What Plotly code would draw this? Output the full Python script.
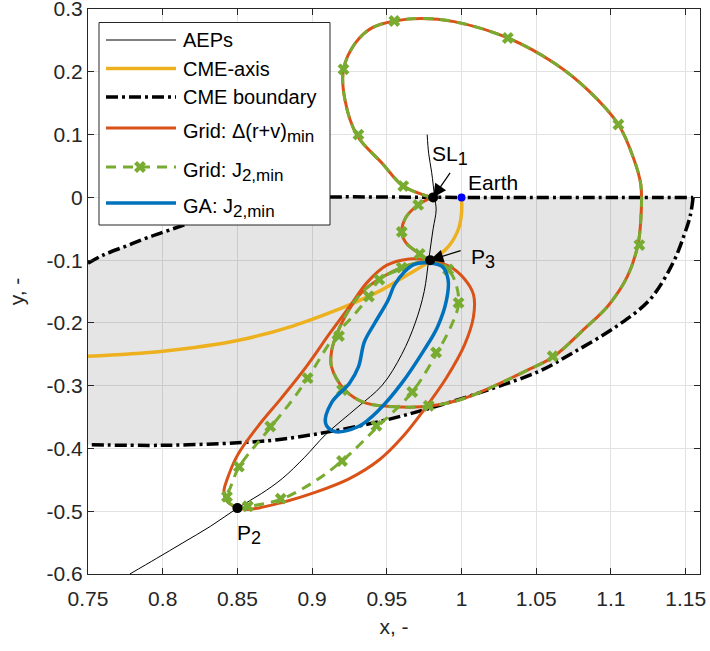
import plotly.graph_objects as go

# ---------------- data ----------------
x_ticks = [0.75, 0.8, 0.85, 0.9, 0.95, 1.0, 1.05, 1.1, 1.15]
x_ticklabels = ["0.75", "0.8", "0.85", "0.9", "0.95", "1", "1.05", "1.1", "1.15"]
y_ticks = [0.3, 0.2, 0.1, 0.0, -0.1, -0.2, -0.3, -0.4, -0.5, -0.6]
y_ticklabels = ["0.3", "0.2", "0.1", "0", "-0.1", "-0.2", "-0.3", "-0.4", "-0.5", "-0.6"]

# AEPs curve
aep_x = [0.778, 0.796, 0.813, 0.832, 0.85, 0.866, 0.88, 0.895, 0.909, 0.93, 0.947, 0.96, 0.969, 0.975, 0.978,
         0.981, 0.983, 0.982, 0.980, 0.978, 0.977]
aep_y = [-0.6, -0.575, -0.551, -0.524, -0.495, -0.472, -0.448, -0.414, -0.378, -0.335, -0.299, -0.25, -0.2, -0.15, -0.1,
         -0.05, -0.02, 0.0, 0.04, 0.07, 0.1]

# CME axis
cme_axis_x = [0.75, 0.8, 0.85, 0.887, 0.918, 0.933, 0.947, 0.962, 0.98, 0.991, 0.998, 1.0, 1.0]
cme_axis_y = [-0.253, -0.245, -0.228, -0.205, -0.178, -0.163, -0.147, -0.126, -0.1, -0.079, -0.05, -0.025, 0.0]

# CME boundary: upper-left part + straight part on y=0, and lower part
cme_upper_x = [0.75, 0.76, 0.775, 0.79, 0.807, 0.825, 0.845, 0.865, 0.885, 0.9, 1.0, 1.155]
cme_upper_y = [-0.105, -0.092, -0.078, -0.064, -0.05, -0.035, -0.021, -0.010, -0.003, 0.0, 0.0, 0.0]
cme_lower_x = [1.155, 1.153, 1.149, 1.1416, 1.126, 1.104, 1.075, 1.052, 1.02, 0.98, 0.947, 0.91, 0.877, 0.85, 0.8, 0.75]
cme_lower_y = [0.0, -0.03, -0.06, -0.104, -0.163, -0.205, -0.247, -0.277, -0.305, -0.335, -0.356, -0.374, -0.386, -0.391, -0.395, -0.394]

# Shared path of both grid solutions (P3 -> SL1, SL1 -> big loop -> P3)
s_leg_x = [0.978, 0.972, 0.963, 0.96, 0.963, 0.971, 0.980]
s_leg_y = [-0.1, -0.09, -0.073, -0.055, -0.031, -0.012, 0.0]
loop_x = [0.980, 0.961, 0.947, 0.93, 0.922, 0.921, 0.929, 0.94, 0.955, 0.973, 0.995, 1.031, 1.062, 1.085,
          1.105, 1.115, 1.12, 1.12, 1.118, 1.111, 1.098, 1.082, 1.062, 1.047, 1.002, 0.98, 0.96, 0.935,
          0.922, 0.913, 0.913, 0.916, 0.922, 0.933, 0.947, 0.962, 0.978]
loop_y = [0.0, 0.018, 0.054, 0.099, 0.155, 0.204, 0.246, 0.27, 0.281, 0.285, 0.28, 0.254, 0.214, 0.17,
          0.116, 0.063, 0.02, -0.035, -0.076, -0.126, -0.173, -0.21, -0.253, -0.272, -0.32, -0.332, -0.334, -0.327,
          -0.307, -0.27, -0.245, -0.221, -0.19, -0.152, -0.127, -0.11, -0.1]

# Grid: delta(r+v)_min lobe through P2
red_left_x = [0.978, 0.965, 0.95, 0.937, 0.925, 0.912, 0.896, 0.879, 0.864, 0.85, 0.843, 0.841, 0.843, 0.85]
red_left_y = [-0.1, -0.098, -0.108, -0.135, -0.174, -0.216, -0.27, -0.321, -0.364, -0.411, -0.45, -0.468, -0.484, -0.495]
red_right_x = [0.85, 0.858, 0.88, 0.902, 0.925, 0.945, 0.96, 0.975, 0.99, 1.002, 1.008, 1.008, 1.002, 0.992, 0.978]
red_right_y = [-0.495, -0.497, -0.486, -0.47, -0.448, -0.418, -0.383, -0.338, -0.287, -0.235, -0.19, -0.155, -0.13, -0.11, -0.1]

# Grid: J2,min lobe through P2
grn_left_x = [0.978, 0.962, 0.945, 0.938, 0.927, 0.915, 0.897, 0.887, 0.873, 0.851, 0.845, 0.842, 0.85]
grn_left_y = [-0.1, -0.112, -0.131, -0.158, -0.19, -0.221, -0.288, -0.322, -0.364, -0.43, -0.464, -0.48, -0.495]
grn_right_x = [0.85, 0.856, 0.879, 0.9, 0.92, 0.944, 0.967, 0.983, 0.993, 0.998, 0.996, 0.991, 0.978]
grn_right_y = [-0.495, -0.493, -0.481, -0.455, -0.42, -0.365, -0.31, -0.25, -0.205, -0.17, -0.136, -0.115, -0.1]

# Grid: J2,min marker positions
grn_mk_x = [0.955, 1.031, 0.921, 0.931, 0.961, 1.105, 1.119, 1.061, 0.978, 0.92,
            0.971, 0.96, 0.972, 0.96, 0.945, 0.938, 0.991, 0.998, 0.918, 0.897,
            0.983, 0.967, 0.943, 0.872, 0.851, 0.843, 0.857, 0.879, 0.92]
grn_mk_y = [0.281, 0.254, 0.204, 0.1, 0.018, 0.116, -0.076, -0.253, -0.332, -0.307,
            -0.012, -0.055, -0.09, -0.112, -0.131, -0.158, -0.115, -0.168, -0.221, -0.288,
            -0.247, -0.31, -0.364, -0.365, -0.429, -0.477, -0.492, -0.48, -0.42]

# GA: J2,min closed loop
ga_x = [0.975, 0.987, 0.991, 0.99, 0.984, 0.975, 0.96, 0.945, 0.931, 0.915, 0.909, 0.913, 0.925, 0.931,
        0.935, 0.942, 0.951, 0.955, 0.962, 0.968, 0.975]
ga_y = [-0.104, -0.11, -0.131, -0.163, -0.206, -0.243, -0.296, -0.338, -0.365, -0.373, -0.36, -0.327, -0.296, -0.27,
        -0.23, -0.2, -0.163, -0.14, -0.118, -0.107, -0.104]

# special points
sl1 = (0.981, 0.0)
p3 = (0.979, -0.1)
p2 = (0.85, -0.495)
earth = (1.0, 0.0)

# legend entries (main text, subscript)
legend_names = [("AEPs", ""), ("CME-axis", ""), ("CME boundary", ""), ("Grid: Δ(r+v)", "min"),
                ("Grid: J", "2,min"), ("GA: J", "2,min")]

# ---------------- styles ----------------
C_ORANGE = "#EDB120"
C_RED = "#D95319"
C_GREEN = "#77AC30"
C_BLUE = "#0072BD"
FONT = "Liberation Sans, Arial, sans-serif"
TXT = "#262626"
bdash = "12px,4px,3px,4px"
gdash = "10px,7px"

W, H = 710, 651
ML, MR, MT, MB = 88, 10, 9, 77
PW, PH = W - ML - MR, H - MT - MB


def sub(main, s, size):
    if not s:
        return main
    return f"{main}<sub><span style='font-size:{size}px'>{s}</span></sub>"


fig = go.Figure()

# shaded CME region
fig.add_trace(go.Scatter(x=cme_upper_x + cme_lower_x, y=cme_upper_y + cme_lower_y,
                         fill="toself", fillcolor="rgba(0,0,0,0.10)", mode="none",
                         showlegend=False, hoverinfo="skip"))

fig.add_trace(go.Scatter(x=aep_x, y=aep_y, mode="lines",
                         line=dict(color="black", width=1, shape="spline")))
fig.add_trace(go.Scatter(x=cme_axis_x, y=cme_axis_y, mode="lines",
                         line=dict(color=C_ORANGE, width=3.5, shape="spline")))
for xs, ys in [(cme_upper_x, cme_upper_y), (cme_lower_x, cme_lower_y)]:
    fig.add_trace(go.Scatter(x=xs, y=ys, mode="lines",
                             line=dict(color="black", width=3.5, dash=bdash, shape="spline")))

for xs, ys in [(red_left_x, red_left_y), (red_right_x, red_right_y), (s_leg_x, s_leg_y), (loop_x, loop_y)]:
    fig.add_trace(go.Scatter(x=xs, y=ys, mode="lines", line=dict(color=C_RED, width=3, shape="spline")))

for xs, ys in [(grn_left_x, grn_left_y), (grn_right_x, grn_right_y), (s_leg_x, s_leg_y), (loop_x, loop_y)]:
    fig.add_trace(go.Scatter(x=xs, y=ys, mode="lines",
                             line=dict(color=C_GREEN, width=3, dash=gdash, shape="spline")))
fig.add_trace(go.Scatter(x=grn_mk_x, y=grn_mk_y, mode="markers",
                         marker=dict(symbol="x", size=10.5, color=C_GREEN)))

fig.add_trace(go.Scatter(x=ga_x, y=ga_y, mode="lines", line=dict(color=C_BLUE, width=3.5, shape="spline")))

# points
fig.add_trace(go.Scatter(x=[sl1[0], p3[0], p2[0]], y=[sl1[1], p3[1], p2[1]], mode="markers",
                         marker=dict(color="black", size=10)))
fig.add_trace(go.Scatter(x=[earth[0]], y=[earth[1]], mode="markers", marker=dict(color="blue", size=8)))

# ---------------- legend (drawn on an overlay axis measured in pixels) ----------------
lg_left, lg_right, lg_top, lg_bot = 11, 242, 13.5, 216
fig.add_trace(go.Scatter(x=[lg_left, lg_right, lg_right, lg_left, lg_left],
                         y=[lg_top, lg_top, lg_bot, lg_bot, lg_top], xaxis="x2", yaxis="y2",
                         mode="lines", fill="toself", fillcolor="white",
                         line=dict(color=TXT, width=1)))
row_y = [31, 59.5, 88, 119, 158, 194]
line_styles = [dict(color="black", width=1),
               dict(color=C_ORANGE, width=3.5),
               dict(color="black", width=3.5, dash=bdash),
               dict(color=C_RED, width=3),
               dict(color=C_GREEN, width=3, dash=gdash),
               dict(color=C_BLUE, width=3.5)]
for yy, ls in zip(row_y, line_styles):
    fig.add_trace(go.Scatter(x=[18, 88], y=[yy, yy], xaxis="x2", yaxis="y2", mode="lines", line=ls))
fig.add_trace(go.Scatter(x=[52], y=[row_y[4]], xaxis="x2", yaxis="y2", mode="markers",
                         marker=dict(symbol="x", size=10.5, color=C_GREEN)))
lfont = dict(family=FONT, size=20, color="black")
for yy, (main, s) in zip(row_y, legend_names):
    shift = 5 if s else 0.0
    fig.add_annotation(x=93, y=yy + shift, xref="x2", yref="y2", text=sub(main, s, 17),
                       showarrow=False, xanchor="left", yanchor="middle", font=lfont)

# ---------------- annotations ----------------
afont = dict(family=FONT, size=21, color="black")
fig.add_annotation(x=sl1[0], y=sl1[1], ax=18, ay=-26, text="",
                   showarrow=True, arrowhead=2, arrowsize=2.2, arrowwidth=1.2, arrowcolor="black")
fig.add_annotation(x=p3[0], y=p3[1], ax=32, ay=-10, text="",
                   showarrow=True, arrowhead=2, arrowsize=2.2, arrowwidth=1.2, arrowcolor="black")
fig.add_annotation(x=0.979, y=0.066, text=sub("SL", "1", 18), showarrow=False, xanchor="left",
                   yanchor="middle", font=afont)
fig.add_annotation(x=1.003, y=0.024, text="Earth", showarrow=False, xanchor="left",
                   yanchor="middle", font=afont)
fig.add_annotation(x=1.005, y=-0.097, text=sub("P", "3", 18), showarrow=False, xanchor="left",
                   yanchor="middle", font=afont)
fig.add_annotation(x=0.8485, y=-0.537, text=sub("P", "2", 18), showarrow=False, xanchor="left",
                   yanchor="middle", font=afont)

axis_common = dict(showgrid=True, gridcolor="#e2e2e2", gridwidth=1, zeroline=False,
                   showline=True, linecolor=TXT, linewidth=1, mirror="ticks",
                   ticks="inside", ticklen=6, tickcolor=TXT, ticklabeloverflow="allow",
                   automargin=False,
                   tickfont=dict(family=FONT, size=21, color=TXT))

fig.update_xaxes(range=[0.75, 1.1596], tickvals=x_ticks, ticktext=x_ticklabels,
                 ticklabelstandoff=6,
                 title=dict(text="x, -", font=dict(family=FONT, size=21, color=TXT), standoff=10),
                 **axis_common)
fig.update_yaxes(range=[-0.6, 0.3001], tickvals=y_ticks, ticktext=y_ticklabels,
                 title=dict(text="y, -", font=dict(family=FONT, size=21, color=TXT), standoff=16),
                 **axis_common)

fig.update_layout(
    width=W, height=H,
    margin=dict(l=ML, r=MR, t=MT, b=MB),
    plot_bgcolor="white", paper_bgcolor="white",
    font=dict(family=FONT, size=21, color=TXT),
    showlegend=False,
    xaxis2=dict(overlaying="x", anchor="y2", range=[0, PW], visible=False, fixedrange=True, automargin=False),
    yaxis2=dict(overlaying="y", anchor="x2", range=[PH, 0], visible=False, fixedrange=True, automargin=False),
)

fig.write_html("out.html")
